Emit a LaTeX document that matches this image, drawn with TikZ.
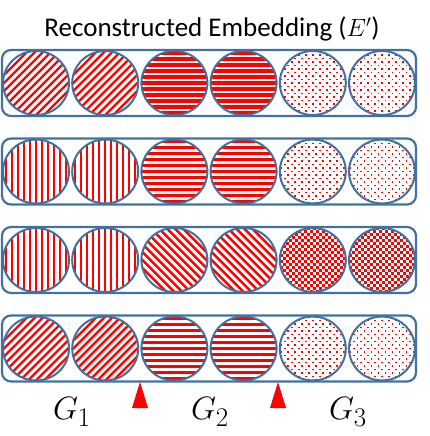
\documentclass[tikz,border=0pt]{standalone}
\usepackage{graphicx}
\usepackage{fontspec}
\setmainfont{Carlito}
\usetikzlibrary{shapes.geometric,fit}
\definecolor{bord}{HTML}{41719C}
\definecolor{pred}{HTML}{FF0000}
\newcommand\glab[1]{\scalebox{1.3}{$#1$}}
\tikzset{
  cell/.style={ellipse, draw=bord, line width=2pt, minimum width=66pt, minimum height=64pt, inner sep=0pt},
  diagup/.style={cell, path picture={\begin{scope}[shift={(path picture bounding box.center)}]
     \foreach \c in {-80,-72,...,80}{\draw[pred,line width=2.2pt] (\c-40,-40) -- (\c+40,40);}\end{scope}}},
  diagdown/.style={cell, path picture={\begin{scope}[shift={(path picture bounding box.center)}]
     \foreach \c in {-80,-72,...,80}{\draw[pred,line width=2.4pt] (\c-40,40) -- (\c+40,-40);}\end{scope}}},
  horiz/.style={cell, path picture={\begin{scope}[shift={(path picture bounding box.center)}]
     \foreach \y in {-36,-30,...,36}{\draw[pred,line width=3.5pt] (-40,\y) -- (40,\y);}\end{scope}}},
  vert/.style={cell, path picture={\begin{scope}[shift={(path picture bounding box.center)}]
     \foreach \x in {-36,-30,...,36}{\draw[pred,line width=1.8pt] (\x,-40) -- (\x,40);}\end{scope}}},
  dots/.style={cell, path picture={\begin{scope}[shift={(path picture bounding box.center)}]
     \foreach \j in {-10,...,10}{\pgfmathsetmacro\off{mod(\j+20,2)*3.5}
       \foreach \x in {-35,-28,...,35}{\fill[pred] (\x+\off-0.9,3.5*\j-0.9) rectangle +(1.8,1.8);}}\end{scope}}},
  checker/.style={cell, path picture={\begin{scope}[shift={(path picture bounding box.center)}]
     \foreach \i in {-12,...,11}{\pgfmathsetmacro\off{mod(\i+24,2)*3}
       \foreach \j in {-36,-30,...,30}{\fill[pred] (3*\i,\j+\off) rectangle +(3,3);}}\end{scope}}},
  rowbox/.style={draw=bord, line width=2.2pt, rounded corners=9pt, inner sep=0pt},
  glabel/.style={font=\fontsize{24.88}{30}\selectfont},
  marker/.style={fill=pred},
}
\begin{document}
\begin{tikzpicture}[x=1pt,y=1pt]
\useasboundingbox (0,0) rectangle (430,-436);
\node[font=\fontsize{27}{32}\selectfont] (title) at (212,-29) {Reconstructed Embedding ($E'$)};
% row 1
\node[diagup] (r1c1) at (36,-83) {};
\node[diagup] (r1c2) at (105.2,-83) {};
\node[horiz] (r1c3) at (174.4,-83) {};
\node[horiz] (r1c4) at (243.6,-83) {};
\node[dots] (r1c5) at (312.8,-83) {};
\node[dots] (r1c6) at (382,-83) {};
\node[rowbox, fit=(r1c1)(r1c6)] (row1) {};
% row 2
\node[vert] (r2c1) at (36,-171.5) {};
\node[vert] (r2c2) at (105.2,-171.5) {};
\node[horiz] (r2c3) at (174.4,-171.5) {};
\node[horiz] (r2c4) at (243.6,-171.5) {};
\node[dots] (r2c5) at (312.8,-171.5) {};
\node[dots] (r2c6) at (382,-171.5) {};
\node[rowbox, fit=(r2c1)(r2c6)] (row2) {};
% row 3
\node[vert] (r3c1) at (36,-260) {};
\node[vert] (r3c2) at (105.2,-260) {};
\node[diagdown] (r3c3) at (174.4,-260) {};
\node[diagdown] (r3c4) at (243.6,-260) {};
\node[checker] (r3c5) at (312.8,-260) {};
\node[checker] (r3c6) at (382,-260) {};
\node[rowbox, fit=(r3c1)(r3c6)] (row3) {};
% row 4
\node[diagup] (r4c1) at (36,-348.5) {};
\node[diagup] (r4c2) at (105.2,-348.5) {};
\node[horiz] (r4c3) at (174.4,-348.5) {};
\node[horiz] (r4c4) at (243.6,-348.5) {};
\node[dots] (r4c5) at (312.8,-348.5) {};
\node[dots] (r4c6) at (382,-348.5) {};
\node[rowbox, fit=(r4c1)(r4c6)] (row4) {};
% markers
\fill[marker] (140,-382) -- (148,-408) -- (132,-408) -- cycle;
\fill[marker] (278,-382) -- (286,-408) -- (270,-408) -- cycle;
% labels
\node[glabel] (g1) at (72,-412) {\glab{G_1}};
\node[glabel] (g2) at (210,-412) {\glab{G_2}};
\node[glabel] (g3) at (348,-412) {\glab{G_3}};
\end{tikzpicture}
\end{document}
